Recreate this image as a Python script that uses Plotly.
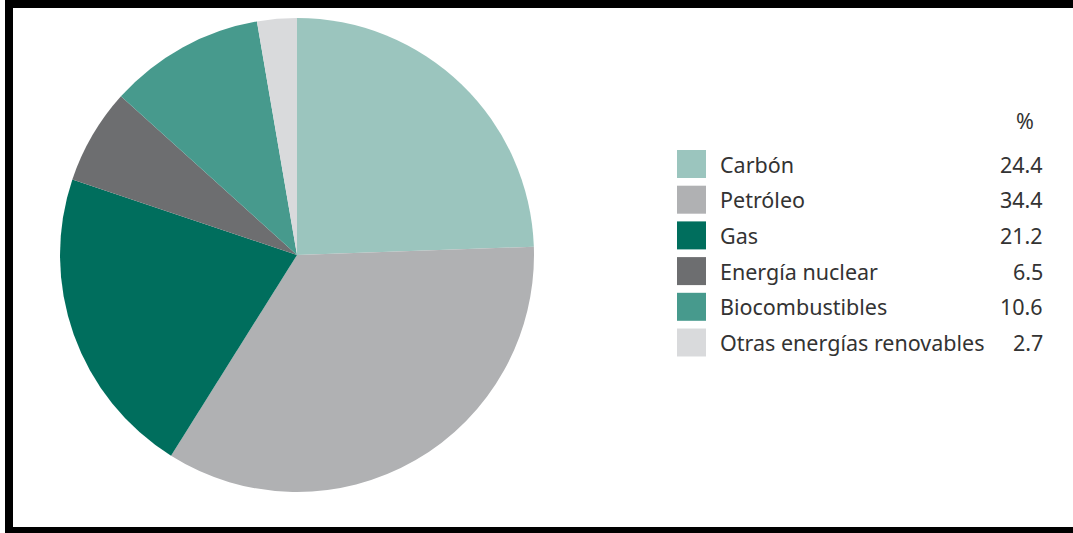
import plotly.graph_objects as go

categories = ["Carbón", "Petróleo", "Gas", "Energía nuclear", "Biocombustibles", "Otras energías renovables"]
values = [24.4, 34.4, 21.2, 6.5, 10.6, 2.7]
value_labels = ["24.4", "34.4", "21.2", "6.5", "10.6", "2.7"]
colors = ["#9bc5be", "#b0b1b3", "#006e5d", "#6d6e70", "#479a8d", "#d9dadc"]

W, H = 1073, 533

def px(x):
    return x / W

def py(y):
    return 1 - y / H

fig = go.Figure()
fig.add_trace(go.Pie(
    labels=categories, values=values, sort=False, direction="clockwise", rotation=0,
    marker=dict(colors=colors, line=dict(width=0)),
    textinfo="none", hoverinfo="skip", showlegend=False,
    domain=dict(x=[px(297 - 237), px(297 + 237)], y=[py(492), py(18)]),
))

shapes = []
annotations = []
font_family = "Noto Sans"
text_color = "#333333"
fsize = 21.5

# legend header
annotations.append(dict(x=px(1025), y=py(121), xref="paper", yref="paper", text="%",
                        showarrow=False, xanchor="center", yanchor="middle",
                        font=dict(family=font_family, size=fsize, color=text_color)))

row0, step = 164, 35.7
for i, (cat, lab, col) in enumerate(zip(categories, value_labels, colors)):
    yc = row0 + i * step
    shapes.append(dict(type="rect", xref="paper", yref="paper",
                       x0=px(677), x1=px(706), y0=py(yc - 14), y1=py(yc + 14),
                       fillcolor=col, line=dict(width=0)))
    annotations.append(dict(x=px(718), y=py(yc), xref="paper", yref="paper", text=cat,
                            showarrow=False, xanchor="left", yanchor="middle",
                            font=dict(family=font_family, size=fsize, color=text_color)))
    annotations.append(dict(x=px(1045), y=py(yc), xref="paper", yref="paper", text=lab,
                            showarrow=False, xanchor="right", yanchor="middle",
                            font=dict(family=font_family, size=fsize, color=text_color)))

# frame borders
shapes.append(dict(type="rect", xref="paper", yref="paper", x0=px(5), x1=px(1073),
                   y0=py(8), y1=py(0), fillcolor="black", line=dict(width=0)))
shapes.append(dict(type="rect", xref="paper", yref="paper", x0=px(5), x1=px(13),
                   y0=py(533), y1=py(0), fillcolor="black", line=dict(width=0)))
shapes.append(dict(type="rect", xref="paper", yref="paper", x0=px(5), x1=px(1073),
                   y0=py(533), y1=py(527), fillcolor="black", line=dict(width=0)))

fig.update_layout(width=W, height=H, margin=dict(l=0, r=0, t=0, b=0),
                  paper_bgcolor="white", plot_bgcolor="white",
                  shapes=shapes, annotations=annotations, showlegend=False)
fig.write_html("out.html", config={"displayModeBar": False},
               post_script="document.body.style.margin='0';document.body.style.overflow='hidden';")
